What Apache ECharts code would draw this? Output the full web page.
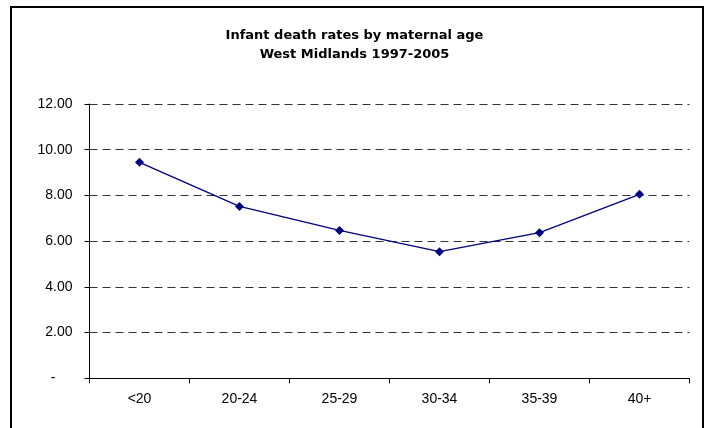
<!DOCTYPE html>
<html>
<head>
<meta charset="utf-8">
<script src="https://cdn.jsdelivr.net/npm/echarts@6/dist/echarts.min.js"></script>
<style>html,body{margin:0;padding:0;background:#fff}#c{width:709px;height:428px}</style>
</head>
<body>
<div id="c"></div>
<script>
var categories = ['<20', '20-24', '25-29', '30-34', '35-39', '40+'];
var rates = [9.45, 7.52, 6.47, 5.54, 6.37, 8.05];
var titleLines = ['Infant death rates by maternal age', 'West Midlands 1997-2005'];
var yMin = 0, yMax = 12, yStep = 2;

var chart = echarts.init(document.getElementById('c'), null, {renderer: 'canvas'});
chart.setOption({
  animation: false,
  backgroundColor: '#fff',
  title: {
    text: titleLines.join('\n'),
    left: 'center',
    top: 26,
    padding: [0, 0, 0, 9],
    textStyle: {fontFamily: 'DejaVu Sans', fontWeight: 'bold', fontSize: 13, lineHeight: 19, color: '#000'}
  },
  graphic: [{
    type: 'rect', silent: true, z: -1,
    shape: {x: 11, y: 7, width: 692, height: 432},
    style: {fill: 'none', stroke: '#000', lineWidth: 2}
  }],
  grid: {left: 89.5, right: 19.5, top: 104, bottom: 49.7, containLabel: false},
  xAxis: {
    type: 'category',
    data: categories,
    boundaryGap: true,
    axisLine: {show: true, lineStyle: {color: '#000', width: 1}},
    axisTick: {show: true, inside: false, length: 5, alignWithLabel: false, lineStyle: {color: '#000'}},
    axisLabel: {fontFamily: 'Liberation Sans', fontSize: 14, color: '#000', margin: 14},
    splitLine: {show: false}
  },
  yAxis: {
    type: 'value',
    min: yMin, max: yMax, interval: yStep,
    axisLine: {show: true, lineStyle: {color: '#000', width: 1}},
    axisTick: {show: true, inside: false, length: 5, lineStyle: {color: '#000'}},
    axisLabel: {
      fontFamily: 'Liberation Sans', fontSize: 14, color: '#000', margin: 17,
      formatter: function (v) { return v === 0 ? '{z|-}' : v.toFixed(2); },
      rich: {z: {fontFamily: 'Liberation Sans', fontSize: 14, color: '#000', padding: [0, 17, 0, 0]}}
    },
    splitLine: {show: true, lineStyle: {color: '#333', width: 1, type: [8, 5]}}
  },
  series: [{
    type: 'line',
    data: rates,
    symbol: 'diamond',
    symbolSize: 9,
    showSymbol: true,
    lineStyle: {color: '#000080', width: 1.3},
    itemStyle: {color: '#000080'}
  }]
});
</script>
</body>
</html>
